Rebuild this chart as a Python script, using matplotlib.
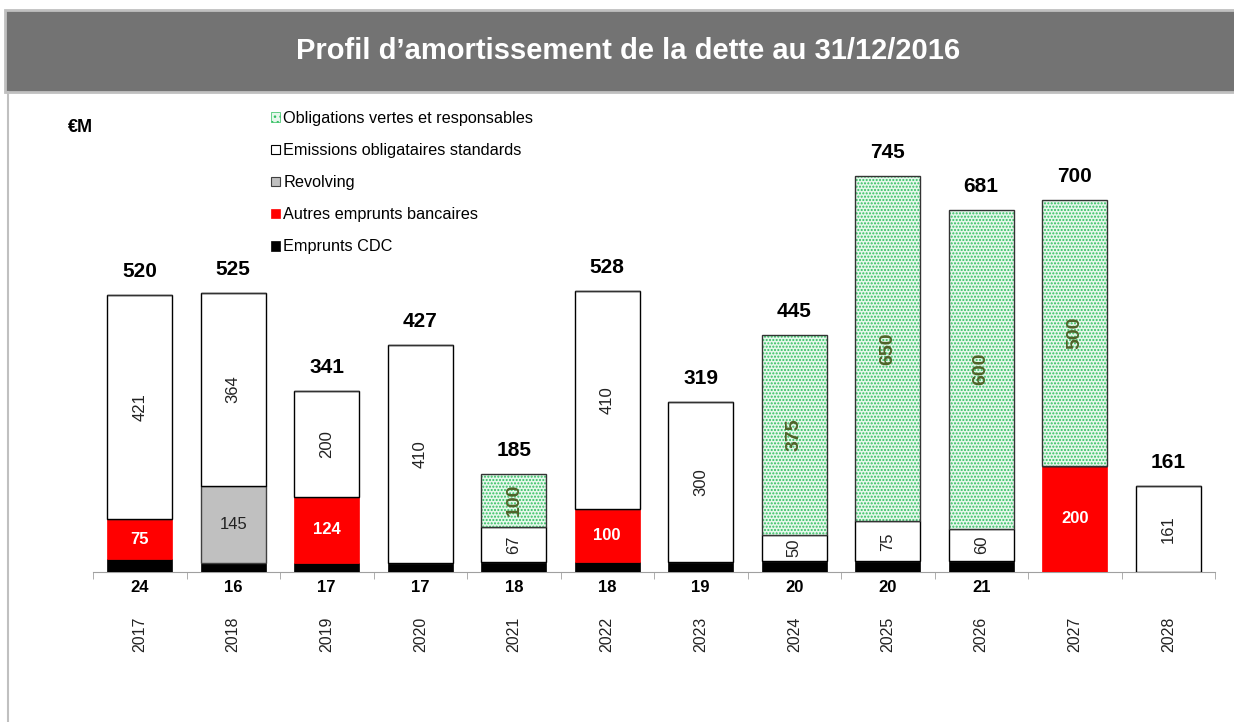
import numpy as np
import matplotlib
matplotlib.use("Agg")
import matplotlib.pyplot as plt
from matplotlib.patches import Rectangle, Patch

plt.rcParams['font.family'] = ['Liberation Sans', 'DejaVu Sans']

# Données (M€)
years = ['2017', '2018', '2019', '2020', '2021', '2022', '2023', '2024', '2025', '2026', '2027', '2028']
cdc = [24, 16, 17, 17, 18, 18, 19, 20, 20, 21, 0, 0]
autres = [75, 0, 124, 0, 0, 100, 0, 0, 0, 0, 200, 0]
revolving = [0, 145, 0, 0, 0, 0, 0, 0, 0, 0, 0, 0]
standards = [421, 364, 200, 410, 67, 410, 300, 50, 75, 60, 0, 161]
vertes = [0, 0, 0, 0, 100, 0, 0, 375, 650, 600, 500, 0]

GREEN_FACE = '#e6f7ec'
GREEN_DOT = '#2fbf5f'

fig = plt.figure(figsize=(12.34, 7.22), dpi=100)

# bandeau du titre et cadre
fig.patches.append(Rectangle((5 / 1234, 1 - 92 / 722), 1, 82 / 722, transform=fig.transFigure,
                             facecolor='#737373', edgecolor='#c0c0c0', lw=2, zorder=0))
fig.lines.append(plt.Line2D([8 / 1234, 8 / 1234], [0, 1 - 92 / 722], transform=fig.transFigure,
                            color='#c0c0c0', lw=1.5))
fig.text(628 / 1234, 1 - 51 / 722, 'Profil d\u2019amortissement de la dette au 31/12/2016',
         ha='center', va='center', color='white', fontsize=21, fontweight='bold')

ax = fig.add_axes([93 / 1234, 1 - 572 / 722, 1122 / 1234, 472 / 722])
x = np.arange(len(years))
w = 0.69

cdc_a = np.array(cdc)
autres_a = np.array(autres)
rev_a = np.array(revolving)
std_a = np.array(standards)
vert_a = np.array(vertes)
totals = cdc_a + autres_a + rev_a + std_a + vert_a

b0 = np.zeros(len(years))
ax.bar(x, cdc_a, w, bottom=b0, color='black', edgecolor='black', lw=0.5, zorder=3)
b1 = b0 + cdc_a
ax.bar(x, autres_a, w, bottom=b1, color='#ff0000', edgecolor='#ff0000', lw=0.5, zorder=3)
b2 = b1 + autres_a
ax.bar(x, rev_a, w, bottom=b2, color='#c0c0c0', edgecolor='#404040', lw=1, zorder=3)
b3 = b2 + rev_a
ax.bar(x, std_a, w, bottom=b3, color='white', edgecolor='black', lw=1, zorder=3)
b4 = b3 + std_a
ax.bar(x, vert_a, w, bottom=b4, color=GREEN_FACE, edgecolor=GREEN_DOT, hatch='.....', lw=0, zorder=3)
ax.bar(x, vert_a, w, bottom=b4, fill=False, edgecolor='#333333', lw=1, zorder=4)

for i in range(len(years)):
    if autres_a[i]:
        ax.text(x[i], b1[i] + autres_a[i] / 2, str(autres_a[i]), ha='center', va='center',
                color='white', fontsize=12, fontweight='bold', zorder=5)
    if rev_a[i]:
        ax.text(x[i], b2[i] + rev_a[i] / 2, str(rev_a[i]), ha='center', va='center',
                color='#222222', fontsize=12, zorder=5)
    if std_a[i]:
        ax.text(x[i], b3[i] + std_a[i] / 2, str(std_a[i]), ha='center', va='center',
                color='#222222', fontsize=12, rotation=90, zorder=5)
    if vert_a[i]:
        ax.text(x[i], b4[i] + vert_a[i] / 2, str(vert_a[i]), ha='center', va='center',
                color='#4f6228', fontsize=14, fontweight='bold', rotation=90, zorder=5)
    ax.annotate(str(totals[i]), (x[i], totals[i]), xytext=(0, 10), textcoords='offset points',
                ha='center', va='bottom', fontsize=15, fontweight='bold')
    if cdc_a[i]:
        ax.annotate(str(cdc_a[i]), (x[i], 0), xytext=(0, -6), textcoords='offset points',
                    ha='center', va='top', fontsize=12, fontweight='bold')
    ax.annotate(years[i], (x[i], 0), xytext=(0, -32), textcoords='offset points',
                ha='center', va='top', fontsize=11.5, rotation=90, color='#222222')

ax.set_xlim(-0.5, len(years) - 0.5)
ax.set_ylim(0, 887)
for s in ['top', 'right', 'left']:
    ax.spines[s].set_visible(False)
ax.spines['bottom'].set_color('#a0a0a0')
ax.set_yticks([])
ax.set_xticks([])
ax.set_xticks(np.arange(-0.5, len(years)), minor=True)
ax.tick_params(axis='x', which='minor', length=5, color='#a0a0a0', labelbottom=False)
ax.patch.set_alpha(0)

fig.text(68 / 1234, 1 - 127 / 722, '\u20acM', ha='left', va='center', fontsize=13, fontweight='bold')

handles = [
    Patch(facecolor=GREEN_FACE, edgecolor=GREEN_DOT, hatch='...', lw=0.5),
    Patch(facecolor='white', edgecolor='black', lw=0.8),
    Patch(facecolor='#c0c0c0', edgecolor='#404040', lw=0.8),
    Patch(facecolor='#ff0000', edgecolor='#ff0000', lw=0.5),
    Patch(facecolor='black', edgecolor='black', lw=0.5),
]
labels = ['Obligations vertes et responsables', 'Emissions obligataires standards', 'Revolving',
          'Autres emprunts bancaires', 'Emprunts CDC']
fig.legend(handles, labels, loc='upper left', bbox_to_anchor=(263 / 1234, 1 - 103 / 722),
           frameon=False, fontsize=11.7, handlelength=0.55, handleheight=0.55,
           handletextpad=0.2, labelspacing=1.05, borderpad=0)

fig.savefig('out.png', dpi=100)
